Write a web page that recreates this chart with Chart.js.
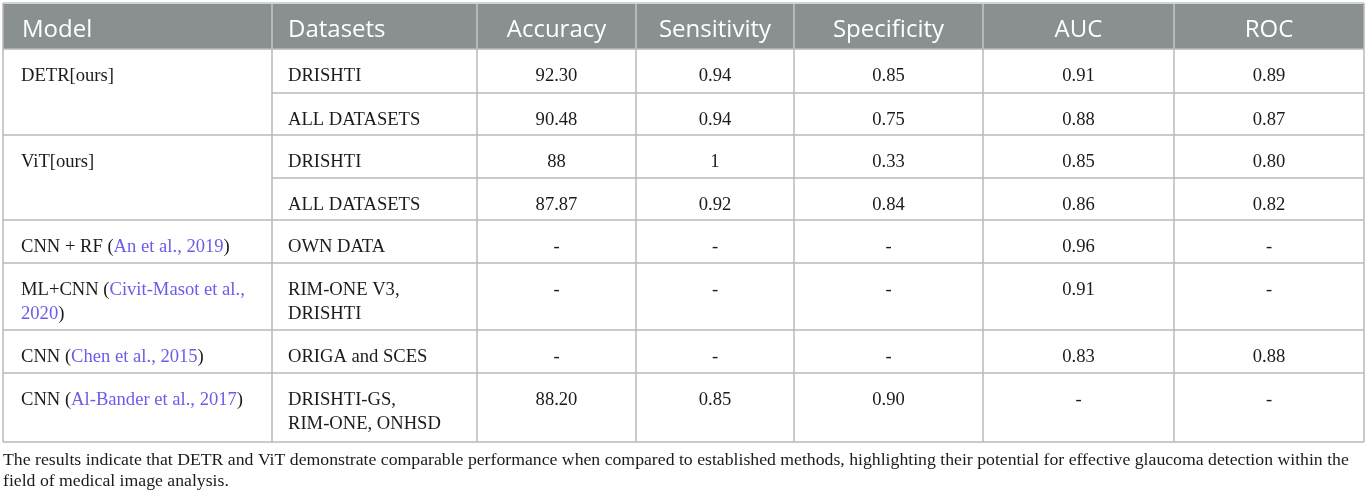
<!DOCTYPE html>
<html>
<head>
<meta charset="utf-8">
<title>DETR / ViT glaucoma detection comparison</title>
<script src="https://cdn.jsdelivr.net/npm/chart.js@4.4.1/dist/chart.umd.min.js"></script>
<style>
  html, body { margin: 0; padding: 0; background: #ffffff; }
  #wrap { position: relative; width: 1372px; height: 497px; }
</style>
</head>
<body>
<div id="wrap"><canvas id="table"></canvas></div>
<script>
// Table content
const headers = ['Model', 'Datasets', 'Accuracy', 'Sensitivity', 'Specificity', 'AUC', 'ROC'];

const modelNames = ['DETR[ours]', 'ViT[ours]', 'CNN + RF', 'ML+CNN', 'CNN', 'CNN'];
const modelRefs = [null, null, 'An et al., 2019', 'Civit-Masot et al., 2020', 'Chen et al., 2015', 'Al-Bander et al., 2017'];
const modelSpans = [2, 2, 1, 1, 1, 1];

const datasetNames = ['DRISHTI', 'ALL DATASETS', 'DRISHTI', 'ALL DATASETS', 'OWN DATA',
  'RIM-ONE V3, DRISHTI', 'ORIGA and SCES', 'DRISHTI-GS, RIM-ONE, ONHSD'];
const accuracy = ['92.30', '90.48', '88', '87.87', '-', '-', '-', '88.20'];
const sensitivity = ['0.94', '0.94', '1', '0.92', '-', '-', '-', '0.85'];
const specificity = ['0.85', '0.75', '0.33', '0.84', '-', '-', '-', '0.90'];
const auc = ['0.91', '0.88', '0.85', '0.86', '0.96', '0.91', '0.83', '-'];
const roc = ['0.89', '0.87', '0.80', '0.82', '-', '-', '0.88', '-'];

const captionLines = [
  'The results indicate that DETR and ViT demonstrate comparable performance when compared to established methods, highlighting their potential for effective glaucoma detection within the',
  'field of medical image analysis.'
];

// Layout (in scale units, 1 unit = 1 px of the page)
const colEdges = [3, 272, 477, 636, 794, 983, 1174, 1364];
const headerTop = 3;
const rowEdges = [49, 93, 135, 178, 220, 263, 330, 373, 442];

const SERIF = '"Liberation Serif", "DejaVu Serif", serif';
const SANS = '"Open Sans", "Noto Sans", sans-serif';
const TEXT = '#1b1b1b';
const LINK = '#6a5de8';
const GRID = '#b9b9b9';
const HEADER_BG = '#8a8f91';

// split rich segments into words and wrap them to maxWidth
function wrapSegments(ctx, segments, maxWidth) {
  const words = [];
  segments.forEach(seg => {
    seg.text.split(/(\s+)/).forEach(w => { if (w) words.push({ text: w, color: seg.color }); });
  });
  const lines = [[]];
  let width = 0;
  words.forEach(w => {
    const ww = ctx.measureText(w.text).width;
    const isSpace = /^\s+$/.test(w.text);
    if (!isSpace && width + ww > maxWidth && lines[lines.length - 1].length) {
      const last = lines[lines.length - 1];
      while (last.length && /^\s+$/.test(last[last.length - 1].text)) last.pop();
      lines.push([]);
      width = 0;
    }
    if (isSpace && width === 0) return;
    // glue to previous piece when same colour
    const line = lines[lines.length - 1];
    const prev = line[line.length - 1];
    if (prev && prev.color === w.color) prev.text += w.text;
    else line.push({ text: w.text, color: w.color });
    width += ww;
  });
  return lines;
}

function drawLines(ctx, lines, x, y, lineHeight) {
  lines.forEach((line, i) => {
    let cx = x;
    line.forEach(seg => {
      ctx.fillStyle = seg.color;
      ctx.fillText(seg.text, cx, y + i * lineHeight);
      cx += ctx.measureText(seg.text).width;
    });
  });
}

const tablePlugin = {
  id: 'tablePlugin',
  afterDraw(chart) {
    const ctx = chart.ctx;
    const X = v => chart.scales.x.getPixelForValue(v);
    const Y = v => chart.scales.y.getPixelForValue(v);
    const left = X(colEdges[0]);
    const right = X(colEdges[colEdges.length - 1]);
    const bottom = Y(rowEdges[rowEdges.length - 1]);

    ctx.save();

    // header band
    ctx.fillStyle = HEADER_BG;
    ctx.fillRect(left, Y(headerTop + 1), right - left, Y(rowEdges[0]) - Y(headerTop + 1));
    ctx.strokeStyle = '#c4c7c8';
    ctx.lineWidth = 1.5;
    ctx.beginPath();
    ctx.moveTo(left, Y(headerTop));
    ctx.lineTo(right, Y(headerTop));
    colEdges.slice(1, -1).forEach(c => {
      ctx.moveTo(X(c), Y(headerTop + 1));
      ctx.lineTo(X(c), Y(rowEdges[0]));
    });
    ctx.stroke();

    ctx.font = '24px ' + SANS;
    ctx.fillStyle = '#ffffff';
    ctx.textBaseline = 'alphabetic';
    headers.forEach((h, i) => {
      if (i < 2) {
        ctx.textAlign = 'left';
        ctx.fillText(h, X(colEdges[i]) + (i === 0 ? 19 : 16), Y(37));
      } else {
        ctx.textAlign = 'center';
        ctx.fillText(h, (X(colEdges[i]) + X(colEdges[i + 1])) / 2, Y(37));
      }
    });

    // grid
    ctx.strokeStyle = GRID;
    ctx.lineWidth = 1.5;
    ctx.beginPath();
    colEdges.forEach((c, i) => {
      const top = (i === 0 || i === colEdges.length - 1) ? Y(headerTop) : Y(rowEdges[0]);
      ctx.moveTo(X(c), top);
      ctx.lineTo(X(c), bottom);
    });
    const spanStarts = new Set();
    let r = 0;
    modelSpans.forEach(s => { spanStarts.add(r); r += s; });
    spanStarts.add(r);
    rowEdges.forEach((edge, i) => {
      const from = spanStarts.has(i) ? left : X(colEdges[1]);
      ctx.moveTo(from, Y(edge));
      ctx.lineTo(right, Y(edge));
    });
    ctx.stroke();

    // body text
    ctx.font = '18.6px ' + SERIF;
    ctx.textAlign = 'left';
    let row = 0;
    modelNames.forEach((name, i) => {
      const segs = [{ text: name, color: TEXT }];
      if (modelRefs[i]) {
        segs[0].text += ' (';
        segs.push({ text: modelRefs[i], color: LINK });
        segs.push({ text: ')', color: TEXT });
      }
      const lines = wrapSegments(ctx, segs, 242);
      drawLines(ctx, lines, X(colEdges[0]) + 18, Y(rowEdges[row] + 32), 24);
      row += modelSpans[i];
    });

    datasetNames.forEach((d, i) => {
      const lines = wrapSegments(ctx, [{ text: d, color: TEXT }], 175);
      drawLines(ctx, lines, X(colEdges[1]) + 16, Y(rowEdges[i] + 32), 24);
    });

    ctx.textAlign = 'center';
    ctx.fillStyle = TEXT;
    [accuracy, sensitivity, specificity, auc, roc].forEach((col, c) => {
      const cx = (X(colEdges[c + 2]) + X(colEdges[c + 3])) / 2;
      col.forEach((v, i) => {
        ctx.fillText(v, cx, Y(rowEdges[i] + 32));
      });
    });

    // caption, first line stretched to the table width
    ctx.textAlign = 'left';
    ctx.font = '17px ' + SERIF;
    const w = ctx.measureText(captionLines[0]).width;
    const size = 17 * (1350 - 3) / w;
    ctx.font = size.toFixed(2) + 'px ' + SERIF;
    ctx.fillText(captionLines[0], X(3), Y(465));
    ctx.fillText(captionLines[1], X(3), Y(486));

    ctx.restore();
  }
};

new Chart(document.getElementById('table'), {
  type: 'scatter',
  data: { datasets: [] },
  options: {
    responsive: true,
    maintainAspectRatio: false,
    animation: false,
    layout: { padding: 0 },
    plugins: { legend: { display: false }, tooltip: { enabled: false } },
    scales: {
      x: { type: 'linear', min: 0, max: 1372, display: false },
      y: { type: 'linear', min: 0, max: 497, reverse: true, display: false }
    }
  },
  plugins: [tablePlugin]
});
</script>
</body>
</html>
